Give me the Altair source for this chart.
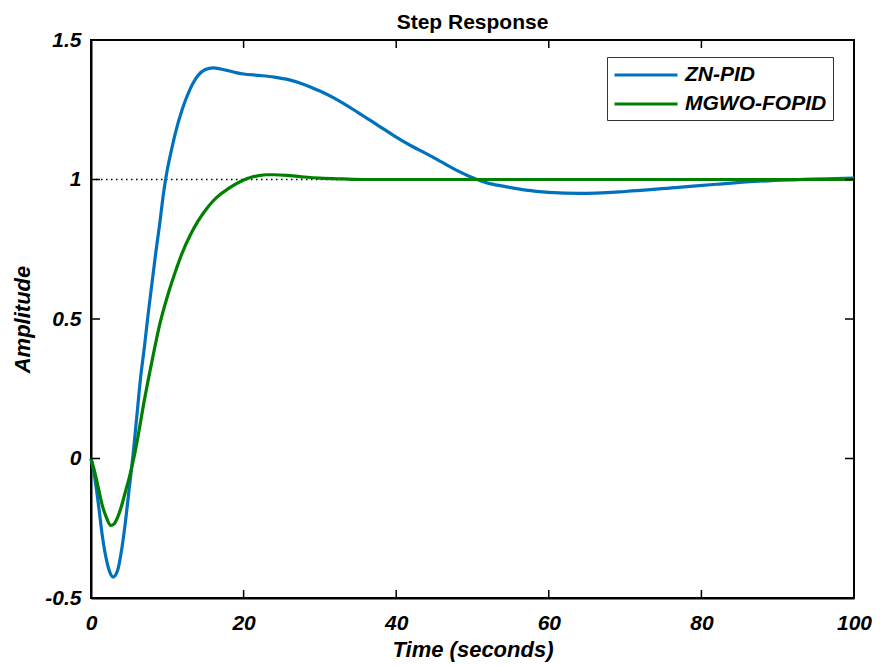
import altair as alt
import pandas as pd

# ---- data ----
zn_t = [0, 0.5, 1, 1.5, 2, 2.5, 2.9, 3.5, 4, 4.5, 5, 5.5, 6, 6.5, 7, 7.5, 8, 8.5, 9, 9.5,
        10, 10.5, 11, 12, 13, 14, 15, 16, 17, 18, 19, 20, 22, 24, 26, 28, 30, 32, 35, 37.5,
        40, 42, 44, 46, 48, 50.6, 52, 54, 57, 60, 64, 70, 77, 82, 87, 92, 100]
zn_y = [0, -0.07, -0.17, -0.28, -0.36, -0.41, -0.425, -0.40, -0.33, -0.23, -0.11, 0.01, 0.15,
        0.29, 0.40, 0.52, 0.63, 0.74, 0.84, 0.95, 1.035, 1.10, 1.16, 1.255, 1.325, 1.372, 1.394,
        1.40, 1.396, 1.39, 1.383, 1.378, 1.373, 1.367, 1.357, 1.34, 1.317, 1.29, 1.24, 1.196,
        1.152, 1.12, 1.092, 1.062, 1.032, 1.0, 0.987, 0.976, 0.962, 0.954, 0.95, 0.957, 0.972,
        0.983, 0.993, 0.999, 1.005]

mg_t = [0, 0.5, 1, 1.5, 2, 2.6, 3, 3.5, 4, 4.5, 5, 5.6, 6, 7, 8, 9, 10, 11, 12, 13, 14, 15,
        16, 17, 18, 19, 20, 21, 22, 23, 24, 26, 28, 30, 33, 36, 40, 50, 60, 70, 80, 90, 100]
mg_y = [0, -0.05, -0.11, -0.17, -0.21, -0.24, -0.235, -0.21, -0.17, -0.12, -0.07, 0.0, 0.055,
        0.21, 0.35, 0.48, 0.58, 0.665, 0.74, 0.80, 0.85, 0.89, 0.923, 0.948, 0.967, 0.984,
        0.998, 1.008, 1.014, 1.017, 1.017, 1.014, 1.009, 1.005, 1.002, 1.0, 1.0, 1.0, 1.0,
        1.0, 1.0, 1.0, 1.0]

series_names = ["ZN-PID", "MGWO-FOPID"]
series_colors = ["#0072BD", "#008000"]

x_ticks = [0, 20, 40, 60, 80, 100]
y_ticks = [-0.5, 0, 0.5, 1, 1.5]
steady_t = [0, 100]
steady_y = [1, 1]

FONT = "Liberation Sans"
W, H = 763, 558

df = pd.concat([
    pd.DataFrame({"Time": zn_t, "Amplitude": zn_y, "Series": series_names[0]}),
    pd.DataFrame({"Time": mg_t, "Amplitude": mg_y, "Series": series_names[1]}),
], ignore_index=True)
df["order"] = range(len(df))

xscale = alt.Scale(domain=[0, 100], nice=False, zero=False)
yscale = alt.Scale(domain=[-0.5, 1.5], nice=False, zero=False)

xaxis = alt.Axis(values=x_ticks, ticks=False, grid=False, labelPadding=14, labelFlush=False,
                 labelFont=FONT, labelFontSize=21, labelFontWeight="bold",
                 labelFontStyle="italic", labelColor="black",
                 labelExpr="'' + datum.value",
                 title="Time (seconds)", titleFont=FONT, titleFontSize=22,
                 titleFontWeight="bold", titleFontStyle="italic", titleColor="black",
                 titleY=41, domainColor="black", domainWidth=2)
yaxis = alt.Axis(values=y_ticks, ticks=False, grid=False, labelPadding=10, labelFlush=False,
                 labelFont=FONT, labelFontSize=21, labelFontWeight="bold",
                 labelFontStyle="italic", labelColor="black",
                 labelExpr="'' + datum.value",
                 title="Amplitude", titleFont=FONT, titleFontSize=22,
                 titleFontWeight="bold", titleFontStyle="italic", titleColor="black",
                 titleX=-69, titleY=H / 2, titleBaseline="middle", titleAngle=-90,
                 domainColor="black", domainWidth=2)

X = alt.X("Time:Q", scale=xscale, axis=xaxis)
Y = alt.Y("Amplitude:Q", scale=yscale, axis=yaxis)

steady = alt.Chart(pd.DataFrame({"Time": steady_t, "Amplitude": steady_y})).mark_line(
    color="black", strokeWidth=1.5, strokeDash=[1.5, 3.5]
).encode(x=X, y=Y)

lines = alt.Chart(df).mark_line(strokeWidth=3.2, interpolate="monotone").encode(
    x=X, y=Y,
    color=alt.Color("Series:N", scale=alt.Scale(domain=series_names, range=series_colors),
                    sort=series_names,
                    legend=alt.Legend(title=None, orient="none", legendX=516, legendY=17,
                                      symbolType="M-1,0H5", symbolSize=441,
                                      symbolStrokeWidth=3, labelFont=FONT,
                                      labelFontSize=21, labelFontWeight="bold",
                                      labelFontStyle="italic", labelColor="black",
                                      labelOffset=48, padding=6, rowPadding=7,
                                      strokeColor="#333333", fillColor="white")),
    order="order:Q",
)

xt = pd.DataFrame({"Time": x_ticks})
yt = pd.DataFrame({"Amplitude": y_ticks})
tick_style = dict(color="black", strokeWidth=1.5)
xtick_bottom = alt.Chart(xt).mark_rule(**tick_style).encode(
    x=X, y=alt.value(H), y2=alt.value(H - 8))
xtick_top = alt.Chart(xt).mark_rule(**tick_style).encode(
    x=X, y=alt.value(0), y2=alt.value(8))
ytick_left = alt.Chart(yt).mark_rule(**tick_style).encode(
    y=Y, x=alt.value(0), x2=alt.value(9))
ytick_right = alt.Chart(yt).mark_rule(**tick_style).encode(
    y=Y, x=alt.value(W), x2=alt.value(W - 9))

chart = alt.layer(steady, lines, xtick_bottom, xtick_top, ytick_left, ytick_right).properties(
    width=W, height=H,
    title=alt.TitleParams("Step Response", font=FONT, fontSize=21, fontWeight="bold",
                          color="black", offset=-4),
    autosize="none",
    padding={"left": 83, "top": 32, "right": 20, "bottom": 66},
    background="white",
).configure_view(stroke="black", strokeWidth=2)

chart.save("out.html", embed_options={"renderer": "svg", "actions": False})
